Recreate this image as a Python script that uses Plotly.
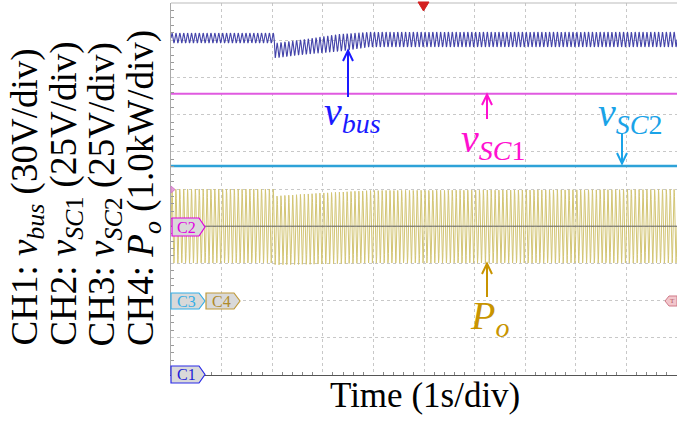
import numpy as np
import plotly.graph_objects as go

# ---- scope settings -------------------------------------------------------
time_span_s = 10.0          # 10 horizontal divisions at 1 s/div
n_vdiv = 10                 # vertical divisions on the screen

# channel scales (units per division) and ground-marker levels (div from bottom)
ch_scale = {"CH1": 30.0, "CH2": 25.0, "CH3": 25.0, "CH4": 1.0}
ch_ground = {"CH1": 0.0, "CH2": 4.0, "CH3": 2.0, "CH4": 2.0}

# ---- measured waveforms ---------------------------------------------------
# CH1: DC-bus voltage ripple envelope (V)
vbus_t = [0.0, 2.04, 2.06, 2.55, 3.34, 3.93, 10.0]
vbus_hi = [275.8, 275.8, 267.7, 270.2, 275.0, 276.6, 276.6]
vbus_lo = [267.7, 267.7, 255.6, 258.1, 261.0, 264.5, 264.5]

# CH2 / CH3: supercapacitor voltages (V)
vsc1_level = 89.0
vsc2_level = 90.5

# CH4: output power ripple envelope (kW)
po_t = [0.0, 2.04, 2.06, 2.94, 3.93, 10.0]
po_hi = [3.00, 3.00, 2.81, 2.89, 2.96, 2.99]
po_lo = [1.01, 1.01, 0.96, 0.98, 1.01, 1.01]

ripple_hz = 13.0            # ripple frequency seen on CH1 / CH4

# ---- screen geometry (pixels) --------------------------------------------
W, H = 677, 422
L, R, T, B = 171, 677, 3, 375


def px(x):
    return (x - L) / (R - L)


def py(y):
    return (B - y) / (B - T)


def poly(points, close=True):
    d = "M" + "L".join(f"{px(a):.5f},{py(b):.5f}" for a, b in points)
    return d + ("Z" if close else "")


def to_div(values, ch):
    return ch_ground[ch] + np.asarray(values, dtype=float) / ch_scale[ch]


t = np.linspace(0.0, time_span_s, 4001)
phase = np.sin(2 * np.pi * ripple_hz * t)


def rippled(tk, hi, lo):
    h = np.interp(t, tk, hi)
    l = np.interp(t, tk, lo)
    return (h + l) / 2 + (h - l) / 2 * phase


vbus = rippled(vbus_t, vbus_hi, vbus_lo)
po = rippled(po_t, po_hi, po_lo)

SERIF = "Liberation Serif"
fig = go.Figure()

fig.add_trace(go.Scatter(x=t, y=to_div(po, "CH4"), mode="lines",
                         line=dict(color="#d3c574", width=1)))
fig.add_trace(go.Scatter(x=[0, time_span_s], y=to_div([vsc2_level] * 2, "CH3"),
                         mode="lines", line=dict(color="#2ea2d8", width=2.5)))
fig.add_trace(go.Scatter(x=[0, time_span_s], y=to_div([vsc1_level] * 2, "CH2"),
                         mode="lines", line=dict(color="#e05ae0", width=2)))
fig.add_trace(go.Scatter(x=t, y=to_div(vbus, "CH1"), mode="lines",
                         line=dict(color="#4444aa", width=1.1)))

shapes = []
# CH2 reference line through the power band
shapes.append(dict(type="line", xref="paper", yref="y", x0=0, x1=1,
                   y0=ch_ground["CH2"], y1=ch_ground["CH2"],
                   line=dict(color="#666666", width=1)))
# top border
shapes.append(dict(type="line", xref="paper", yref="paper", x0=0, x1=1, y0=1, y1=1,
                   line=dict(color="#bbbbbb", width=1)))

annotations = []

# channel ground markers
markers = [
    ("C2", 172, 199, 205, 218, 236, "#e000e0", "#e000e0"),
    ("C3", 171, 199, 205, 293, 309, "#35aee6", "#35aee6"),
    ("C4", 206, 234, 240, 293, 309, "#c09a3a", "#b08a2a"),
    ("C1", 171, 199, 205, 366, 383, "#2a2ae8", "#2020d8"),
]
for name, x0, x1, x2, y0, y1, edge, txt in markers:
    ym = (y0 + y1) / 2
    shapes.append(dict(type="path", xref="paper", yref="paper",
                       path=poly([(x0, y0), (x1, y0), (x2, ym), (x1, y1), (x0, y1)]),
                       fillcolor="#d9d9d9", line=dict(color=edge, width=1.2)))
    annotations.append(dict(xref="paper", yref="paper", x=px((x0 + x1) / 2 + 1),
                            y=py(ym), text=name, showarrow=False,
                            xanchor="center", yanchor="middle",
                            font=dict(family=SERIF, size=16, color=txt)))

# trigger-level marker on the right edge
shapes.append(dict(type="path", xref="paper", yref="paper",
                   path=poly([(665, 301), (669, 296), (677, 296), (677, 306), (669, 306)]),
                   fillcolor="#f2c6cc", line=dict(color="#d07a88", width=1)))
annotations.append(dict(xref="paper", yref="paper", x=px(672), y=py(301), text="T",
                        showarrow=False, xanchor="center", yanchor="middle",
                        font=dict(family=SERIF, size=7, color="#b05060")))
# small pink marker on the left edge
shapes.append(dict(type="path", xref="paper", yref="paper",
                   path=poly([(171, 186), (175, 189.5), (171, 193)]),
                   fillcolor="#e59ad8", line=dict(color="#d080c8", width=1)))
# trigger position marker at the top
shapes.append(dict(type="path", xref="paper", yref="paper",
                   path=poly([(418, 2), (429, 2), (423.5, 11)]),
                   fillcolor="#d42020", line=dict(color="#d42020", width=1)))

# waveform labels
labels = [
    ("<i>v</i><sub><i>bus</i></sub>", 322, 114, "#1a1aff"),
    ("<i>v</i><sub><i>SC</i>1</sub>", 459, 141, "#ff10d0"),
    ("<i>v</i><sub><i>SC</i>2</sub>", 596, 115, "#1aa3e8"),
    ("<i>P</i><sub><i>o</i></sub>", 468, 318, "#c89400"),
]
for text, x, y, col in labels:
    annotations.append(dict(xref="paper", yref="paper", x=px(x), y=py(y), text=text,
                            showarrow=False, xanchor="left", yanchor="middle",
                            font=dict(family=SERIF, size=40, color=col)))

# pointer arrows drawn as shaft + open arrowhead (tip x, tip y, tail y)
arrows = [
    (348, 50, 97, "#1a1aff"),
    (487, 94, 119, "#ff10d0"),
    (622, 164, 133, "#1aa3e8"),
    (487, 263, 297, "#c89400"),
]
for x, y_tip, y_tail, col in arrows:
    s = 1 if y_tail > y_tip else -1
    shapes.append(dict(type="path", xref="paper", yref="paper",
                       path=poly([(x, y_tail), (x, y_tip)], close=False),
                       line=dict(color=col, width=2)))
    shapes.append(dict(type="path", xref="paper", yref="paper",
                       path=poly([(x - 5, y_tip + s * 11), (x, y_tip + s * 0.5),
                                  (x + 5, y_tip + s * 11)], close=False),
                       line=dict(color=col, width=2)))

# channel legend written along the left side
ch_lines = [
    "CH1: <i>v</i><sub><i>bus</i></sub> (30V/div)",
    "CH2: <i>v</i><sub><i>SC</i>1</sub> (25V/div)",
    "CH3: <i>v</i><sub><i>SC</i>2</sub> (25V/div)",
    "CH4: <i>P</i><sub><i>o</i></sub> (1.0kW/div)",
]
for i, txt in enumerate(ch_lines):
    annotations.append(dict(xref="paper", yref="paper", x=px(27 + 38.7 * i), y=py(348),
                            text=txt, showarrow=False, textangle=-90,
                            xanchor="center", yanchor="bottom",
                            font=dict(family=SERIF, size=37, color="black")))

annotations.append(dict(xref="paper", yref="paper", x=px(425), y=py(395),
                        text="Time (1s/div)", showarrow=False,
                        xanchor="center", yanchor="middle",
                        font=dict(family=SERIF, size=35, color="black")))

fig.update_layout(
    width=W, height=H,
    margin=dict(l=L, r=W - R, t=T, b=H - B),
    paper_bgcolor="white", plot_bgcolor="white",
    showlegend=False, hovermode=False,
    shapes=shapes, annotations=annotations,
    xaxis=dict(range=[0, time_span_s], dtick=1, showticklabels=False,
               showgrid=True, gridcolor="#c8c8c8", griddash="dot", gridwidth=1,
               zeroline=False, showline=True, linecolor="#555555", linewidth=1,
               ticks="", minor=dict(dtick=0.2, ticks="inside", ticklen=3,
                                    tickcolor="#888888", showgrid=False)),
    yaxis=dict(range=[0, n_vdiv], dtick=1, showticklabels=False,
               showgrid=True, gridcolor="#c8c8c8", griddash="dot", gridwidth=1,
               zeroline=False, showline=True, linecolor="#aaaaaa", linewidth=1,
               ticks="", minor=dict(dtick=0.2, ticks="inside", ticklen=3,
                                    tickcolor="#999999", showgrid=False)),
)

fig.write_html("out.html")
